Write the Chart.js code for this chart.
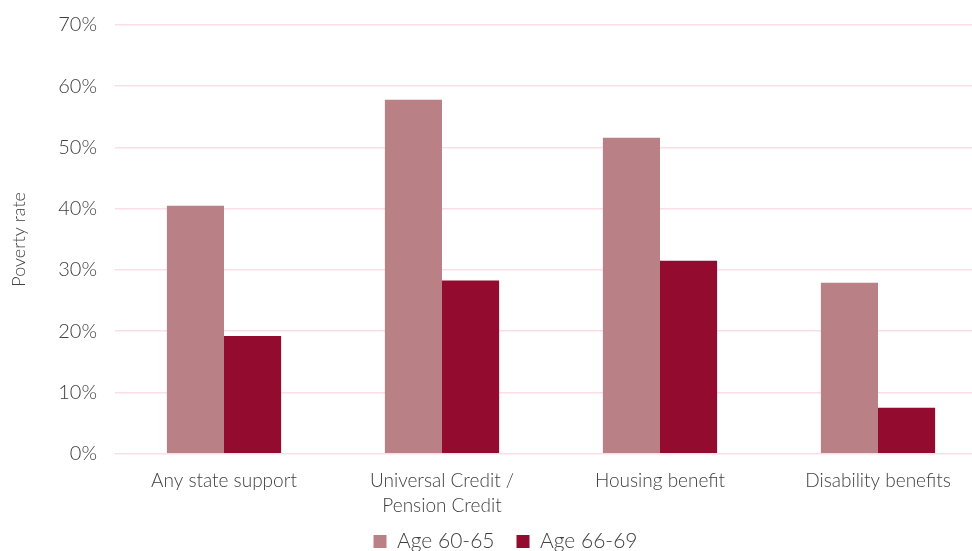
<!DOCTYPE html>
<html>
<head>
<meta charset="utf-8">
<script src="https://cdn.jsdelivr.net/npm/chart.js@4"></script>
<style>
  html, body { margin: 0; padding: 0; background: #fff; overflow: hidden; }
  #wrap { position: relative; width: 987px; height: 574px; margin-top: -5px; }
</style>
</head>
<body>
<div id="wrap"><canvas id="povertyChart"></canvas></div>
<script>
const categories = ['Any state support', ['Universal Credit /', 'Pension Credit'], 'Housing benefit', 'Disability benefits'];
const age60to65 = [40.5, 57.8, 51.6, 27.9];
const age66to69 = [19.2, 28.3, 31.5, 7.5];
const seriesNames = ['Age 60-65', 'Age 66-69'];
const yTicks = [0, 10, 20, 30, 40, 50, 60, 70];

const textColor = '#404040';
const fontFamily = "Lato, 'Open Sans', sans-serif";

// wide gaps between legend items, but a short legend box sitting close to the labels
const legendPlacement = {
    id: 'legendPlacement',
    beforeLayout(chart) {
        const legend = chart.legend;
        if (legend && !legend._fixedHeight) {
            const fit = legend.fit.bind(legend);
            legend.fit = function() {
                fit();
                this.height = 44;
            };
            legend._fixedHeight = true;
        }
    },
    afterLayout(chart) {
        const legend = chart.legend;
        if (!legend) return;
        legend.top -= 16;
        legend.bottom -= 16;
        legend.left += 12;
        legend.right += 12;
    }
};

const ctx = document.getElementById('povertyChart').getContext('2d');
new Chart(ctx, {
    type: 'bar',
    data: {
        labels: categories,
        datasets: [
            { label: seriesNames[0], data: age60to65, backgroundColor: '#b98085' },
            { label: seriesNames[1], data: age66to69, backgroundColor: '#930b2f' }
        ]
    },
    plugins: [legendPlacement],
    options: {
        responsive: true,
        maintainAspectRatio: false,
        animation: false,
        layout: { padding: { top: 7, left: 0, right: 0, bottom: 0 } },
        datasets: {
            bar: { barPercentage: 1, categoryPercentage: 0.524 }
        },
        plugins: {
            legend: {
                position: 'bottom',
                labels: {
                    color: textColor,
                    font: { family: fontFamily, size: 21, weight: 300 },
                    boxWidth: 13,
                    boxHeight: 13,
                    padding: 22
                }
            },
            tooltip: { enabled: false }
        },
        scales: {
            x: {
                grid: { display: false },
                border: { display: false },
                ticks: {
                    color: textColor,
                    font: { family: fontFamily, size: 19, weight: 300, lineHeight: 1.35 },
                    maxRotation: 0,
                    padding: 6
                }
            },
            y: {
                min: 0,
                max: 70,
                afterBuildTicks: (axis) => { axis.ticks = yTicks.map(v => ({ value: v })); },
                afterFit: (axis) => { axis.width = 115; },
                grid: { color: '#fadde5', lineWidth: 1.5, drawTicks: false },
                border: { display: false },
                title: {
                    display: true,
                    text: 'Poverty rate',
                    color: textColor,
                    font: { family: fontFamily, size: 18, weight: 300 },
                    padding: { top: 8, bottom: 0 }
                },
                ticks: {
                    color: textColor,
                    font: { family: fontFamily, size: 20, weight: 300 },
                    padding: 18,
                    callback: (v) => v + '%'
                }
            }
        }
    }
});
</script>
</body>
</html>
